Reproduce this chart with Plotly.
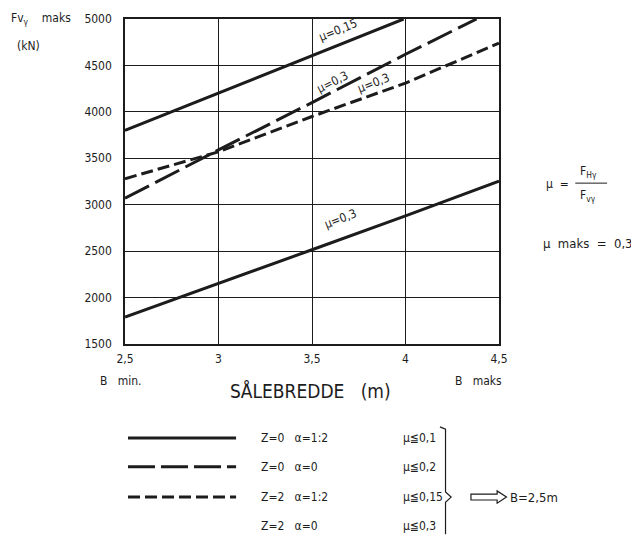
import plotly.graph_objects as go

# ---- data ----
x_top_solid = [2.5, 3.0, 3.5, 3.99]
y_top_solid = [3800, 4200, 4600, 5000]

x_long_dash = [2.5, 3.0, 3.5, 4.0, 4.38]
y_long_dash = [3070, 3590, 4100, 4620, 5000]

x_short_dash = [2.5, 3.0, 3.5, 4.0, 4.5]
y_short_dash = [3280, 3570, 3950, 4310, 4740]

x_bottom_solid = [2.5, 3.0, 3.5, 4.0, 4.5]
y_bottom_solid = [1790, 2150, 2515, 2880, 3255]

x_ticks = [2.5, 3, 3.5, 4, 4.5]
x_tick_text = ["2,5", "3", "3,5", "4", "4,5"]
y_ticks = [1500, 2000, 2500, 3000, 3500, 4000, 4500, 5000]

curve_labels = [
    # text, x, y, angle
    ("μ=0,15", 3.64, 4885, -22),
    ("μ=0,3", 3.61, 4320, -27),
    ("μ=0,3", 3.83, 4310, -21),
    ("μ=0,3", 3.65, 2845, -21),
]

legend_rows = [
    ("Z=0   α=1:2", "μ≦0,1", "solid"),
    ("Z=0   α=0", "μ≦0,2", "27px,6px"),
    ("Z=2   α=1:2", "μ≦0,15", "12px,5px"),
    ("Z=2   α=0", "μ≦0,3", None),
]

FONT = "DejaVu Sans Condensed, Liberation Sans Narrow, sans-serif"
INK = "#1c1c1c"
LW = 3


def txt(x, y, t, size=12, xa="left", ya="middle", xref="paper", yref="paper", **kw):
    d = dict(x=x, y=y, xref=xref, yref=yref, text=t, showarrow=False,
             xanchor=xa, yanchor=ya, font=dict(size=size, family=FONT, color=INK))
    d.update(kw)
    return d


fig = go.Figure()
fig.add_trace(go.Scatter(x=x_top_solid, y=y_top_solid, mode="lines",
                         line=dict(color=INK, width=LW)))
fig.add_trace(go.Scatter(x=x_long_dash, y=y_long_dash, mode="lines",
                         line=dict(color=INK, width=LW, dash="27px,7px")))
fig.add_trace(go.Scatter(x=x_short_dash, y=y_short_dash, mode="lines",
                         line=dict(color=INK, width=LW, dash="12px,5px")))
fig.add_trace(go.Scatter(x=x_bottom_solid, y=y_bottom_solid, mode="lines",
                         line=dict(color=INK, width=LW)))

ann = []
for t, x, y, a in curve_labels:
    ann.append(txt(x, y, t, xa="center", xref="x", yref="y", textangle=a))

# axis captions
ann += [
    txt(-0.311, 1.0, "Fv<sub>γ</sub>    maks"),
    txt(-0.295, 0.917, "(kN)"),
    txt(-0.011, -0.114, "B   min.", xa="center"),
    txt(0.945, -0.114, "B   maks", xa="center"),
    txt(0.497, -0.145, "SÅLEBREDDE   (m)", size=19, xa="center"),
    # right side formula
    txt(1.12, 0.492, "μ  ="),
    txt(1.212, 0.53, "F<sub>Hγ</sub>"),
    txt(1.212, 0.455, "F<sub>vγ</sub>"),
    txt(1.112, 0.308, "μ  maks  =  0,3", size=13),
]

shapes = [
    # fraction bar
    dict(type="line", xref="paper", yref="paper", x0=1.204, x1=1.289,
         y0=0.495, y1=0.495, line=dict(color=INK, width=1)),
]

# legend block below the plot
row_y = [-0.289, -0.378, -0.471, -0.56]
for (lab, mu, dash), yy in zip(legend_rows, row_y):
    if dash is not None:
        shapes.append(dict(type="line", xref="paper", yref="paper",
                           x0=0.008, x1=0.297, y0=yy, y1=yy,
                           line=dict(color=INK, width=LW, dash=dash)))
    ann.append(txt(0.358, yy, lab))
    ann.append(txt(0.738, yy, mu))

# right brace
shapes.append(dict(type="path", xref="paper", yref="paper",
                   path="M 0.842,-0.255 L 0.857,-0.262 L 0.857,-0.455 "
                        "L 0.872,-0.471 L 0.857,-0.487 L 0.857,-0.585",
                   line=dict(color=INK, width=1.2)))
# hollow arrow
shapes.append(dict(type="path", xref="paper", yref="paper",
                   path="M 0.925,-0.462 L 0.995,-0.462 L 0.995,-0.452 L 1.02,-0.471 "
                        "L 0.995,-0.49 L 0.995,-0.48 L 0.925,-0.48 Z",
                   line=dict(color=INK, width=1.2), fillcolor="white"))
ann.append(txt(1.024, -0.471, "B=2,5m", size=13))

fig.update_layout(
    width=632, height=528,
    margin=dict(l=117, r=141, t=11, b=192),
    paper_bgcolor="white", plot_bgcolor="white",
    showlegend=False,
    annotations=ann, shapes=shapes,
    font=dict(family=FONT, size=12, color=INK),
)
fig.update_xaxes(range=[2.5, 4.5], tickvals=x_ticks, ticktext=x_tick_text,
                 showgrid=True, gridcolor=INK, gridwidth=1, automargin=False,
                 showline=True, linecolor=INK, linewidth=1.5, mirror=True,
                 ticks="", zeroline=False, ticklabelstandoff=3,
                 tickfont=dict(size=12, family=FONT, color=INK))
fig.update_yaxes(range=[1500, 5000], tickvals=y_ticks,
                 showgrid=True, gridcolor=INK, gridwidth=1, automargin=False,
                 showline=True, linecolor=INK, linewidth=1.5, mirror=True,
                 ticks="", zeroline=False, ticklabelstandoff=9,
                 tickfont=dict(size=12, family=FONT, color=INK))

fig.write_html("out.html")
